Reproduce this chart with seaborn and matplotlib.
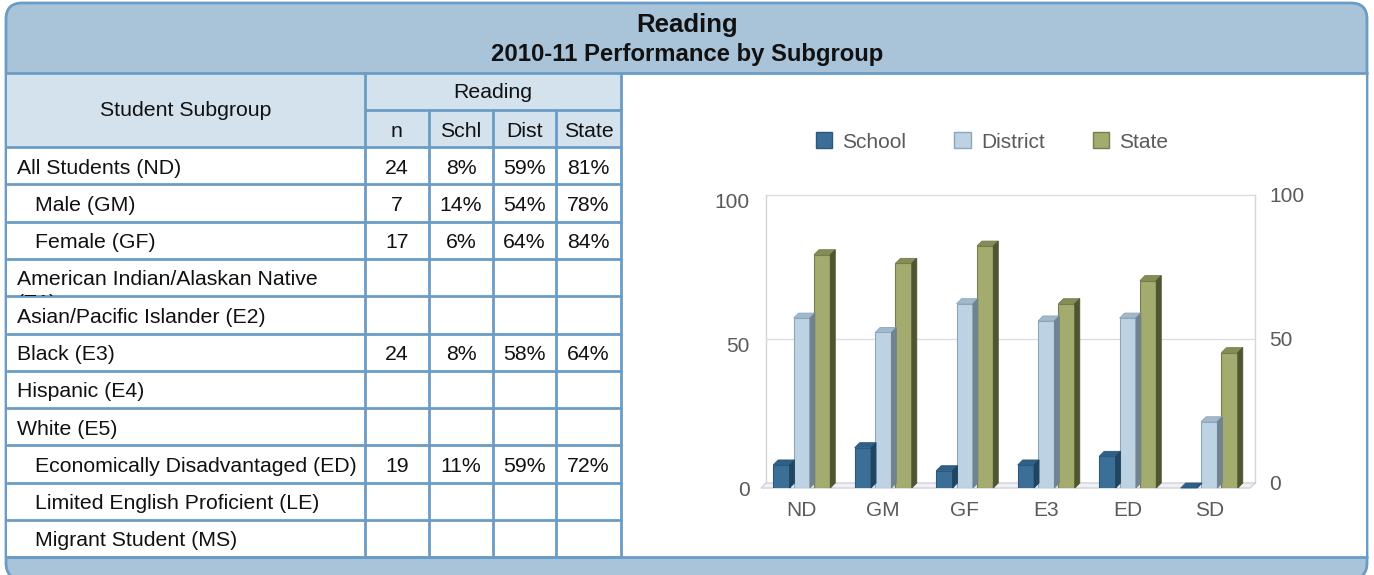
import matplotlib
matplotlib.use("Agg")
import matplotlib.pyplot as plt
import pandas as pd
import seaborn as sns
from matplotlib.patches import Rectangle, FancyBboxPatch, Polygon, Patch

# chart data
categories = ["ND", "GM", "GF", "E3", "ED", "SD"]
series_names = ["School", "District", "State"]
school = [8, 14, 6, 8, 11, 0]
district = [59, 54, 64, 58, 59, 23]
state = [81, 78, 84, 64, 72, 47]

# table data
row_labels = ["All Students (ND)", "Male (GM)", "Female (GF)",
              "American Indian/Alaskan Native", "Asian/Pacific Islander (E2)",
              "Black (E3)", "Hispanic (E4)", "White (E5)",
              "Economically Disadvantaged (ED)", "Limited English Proficient (LE)",
              "Migrant Student (MS)"]
row_indent = [0, 1, 1, 0, 0, 0, 0, 0, 1, 1, 1]
n_vals = ["24", "7", "17", "", "", "24", "", "", "19", "", ""]
schl_vals = ["8%", "14%", "6%", "", "", "8%", "", "", "11%", "", ""]
dist_vals = ["59%", "54%", "64%", "", "", "58%", "", "", "59%", "", ""]
state_vals = ["81%", "78%", "84%", "", "", "64%", "", "", "72%", "", ""]
col_heads = ["n", "Schl", "Dist", "State"]

front_colors = ["#3c6f97", "#bdd2e2", "#a4ab6f"]
edge_colors = ["#2b587b", "#8ea6b9", "#767c4c"]
top_colors = ["#2f6088", "#a2b9cb", "#858c55"]
side_colors = ["#1f4561", "#70838f", "#4f5431"]

sns.set_theme(style="white")
plt.rcParams["font.family"] = ["Liberation Sans", "DejaVu Sans"]

W, H = 1374, 575
fig = plt.figure(figsize=(W / 100, H / 100), dpi=100)
fig.patch.set_facecolor("white")

bg = fig.add_axes([0, 0, 1, 1], zorder=0)
bg.set_xlim(0, W)
bg.set_ylim(H, 0)
bg.axis("off")

line_c = "#6b9cc6"
head_c = "#a9c3d8"
cell_head_c = "#d4e2ed"

# outer frame with header band
bg.add_patch(FancyBboxPatch((6, 3), 1361, 576, boxstyle="round,pad=0,rounding_size=16",
                            facecolor=head_c, edgecolor=line_c, lw=2, clip_on=False))
bg.add_patch(Rectangle((7, 73), 1359, 484, facecolor="white", edgecolor="none"))
bg.text(687, 25, "Reading", ha="center", va="center", fontsize=18.5, fontweight="bold", color="#111")
bg.text(687, 55, "2010-11 Performance by Subgroup", ha="center", va="center",
        fontsize=17.2, fontweight="bold", color="#111")

# table
col_x = [7, 365, 429, 493, 556, 621]
row_y = [147 + 37.3 * i for i in range(12)]
bg.add_patch(Rectangle((7, 73), 614, 74, facecolor=cell_head_c, edgecolor="none"))
lw = 2.0
bg.plot([7, 1367], [73, 73], color=line_c, lw=lw)
bg.plot([365, 621], [110, 110], color=line_c, lw=lw)
for y in row_y:
    bg.plot([7, 621], [y, y], color=line_c, lw=lw, zorder=3)
bg.plot([7, 1367], [557, 557], color=line_c, lw=lw, zorder=3)
bg.plot([365, 365], [73, 557], color=line_c, lw=lw)
bg.plot([621, 621], [73, 557], color=line_c, lw=lw)
for x in col_x[2:5]:
    bg.plot([x, x], [110, 557], color=line_c, lw=lw)

fs = 15.3
bg.text(186, 111, "Student Subgroup", ha="center", va="center", fontsize=fs, color="#111")
bg.text(493, 92, "Reading", ha="center", va="center", fontsize=fs, color="#111")
for j, head in enumerate(col_heads):
    bg.text((col_x[j + 1] + col_x[j + 2]) / 2, 137, head, ha="center", va="baseline",
            fontsize=fs, color="#111")

cols = [n_vals, schl_vals, dist_vals, state_vals]
for i, label in enumerate(row_labels):
    yb = row_y[i] + 26.5
    bg.text(17 + 18 * row_indent[i], yb, label, ha="left", va="baseline", fontsize=fs, color="#111")
    if i == 3:
        # wrapped second line, cut off by the cell like in the web page
        clip = Rectangle((7, row_y[i]), 358, 37.3, transform=bg.transData)
        t2 = bg.text(17, yb + 24, "(E1)", ha="left", va="baseline", fontsize=fs, color="#111")
        t2.set_clip_on(True)
        t2.set_clip_path(clip)
    for j, vals in enumerate(cols):
        if vals[i]:
            bg.text((col_x[j + 1] + col_x[j + 2]) / 2, yb, vals[i], ha="center",
                    va="baseline", fontsize=fs, color="#111")

# chart axes: front (bars) and back wall shifted by the 3D depth
ax_l, ax_b, ax_w, ax_h = 761, 488, 489, 288
depth = 5
axb = fig.add_axes([(ax_l + depth) / W, (H - ax_b + depth) / H, ax_w / W, ax_h / H], zorder=1)
ax = fig.add_axes([ax_l / W, (H - ax_b) / H, ax_w / W, ax_h / H], zorder=2)

df = pd.DataFrame({
    "category": categories * 3,
    "series": [s for s in series_names for _ in categories],
    "value": school + district + state,
})

sns.barplot(data=df, x="category", y="value", hue="series", palette=front_colors,
            width=0.75, gap=0.2, ax=ax, legend=False, saturation=1)
ax.set_xlim(-0.5, len(categories) - 0.5)
ax.set_ylim(0, 100)
dx = depth / ax_w * len(categories)
dy = depth / ax_h * 100

# floor
ax.add_patch(Polygon([(-0.5, 0), (len(categories) - 0.5, 0),
                      (len(categories) - 0.5 + dx, dy), (-0.5 + dx, dy)],
                     closed=True, facecolor="#f0f0f5", edgecolor="#d2d2da", lw=1,
                     clip_on=False, zorder=0.5))

for k, cont in enumerate(ax.containers):
    for bar in cont:
        x0, w, h = bar.get_x(), bar.get_width(), bar.get_height()
        bar.set_edgecolor(edge_colors[k])
        bar.set_linewidth(0.8)
        bar.set_zorder(2)
        ax.add_patch(Polygon([(x0, h), (x0 + w, h), (x0 + w + dx, h + dy), (x0 + dx, h + dy)],
                             closed=True, facecolor=top_colors[k], edgecolor=edge_colors[k],
                             lw=0.6, zorder=2, clip_on=False))
        ax.add_patch(Polygon([(x0 + w, 0), (x0 + w, h), (x0 + w + dx, h + dy), (x0 + w + dx, dy)],
                             closed=True, facecolor=side_colors[k], edgecolor=side_colors[k],
                             lw=0.6, zorder=2, clip_on=False))

tick_c = "#5a5a5a"
ax.set_facecolor("none")
for s in ax.spines.values():
    s.set_visible(False)
ax.set_xlabel("")
ax.set_ylabel("")
ax.set_yticks([0, 50, 100])
ax.tick_params(axis="both", length=0, labelsize=15, colors=tick_c)
ax.tick_params(axis="y", pad=8)
ax.tick_params(axis="x", pad=9)

axb.set_xlim(0, 1)
axb.set_ylim(0, 100)
axb.set_facecolor("none")
for v in [0, 50, 100]:
    axb.axhline(v, color="#dcdce4", lw=1, clip_on=False)
for name, s in axb.spines.items():
    if name in ("left", "right"):
        s.set_color("#d4d4dc")
        s.set_linewidth(1)
    else:
        s.set_visible(False)
axb.set_xticks([])
axb.yaxis.tick_right()
axb.set_yticks([0, 50, 100])
axb.tick_params(axis="y", length=0, labelsize=15, colors=tick_c, pad=10)

handles = [Patch(facecolor=front_colors[k], edgecolor=edge_colors[k], label=series_names[k])
           for k in range(3)]
fig.legend(handles=handles, loc="center", bbox_to_anchor=(992 / W, 1 - 142 / H), ncol=3,
           frameon=False, fontsize=15, labelcolor=tick_c, handlelength=0.78, handleheight=0.78,
           handletextpad=0.5, columnspacing=2.3)

fig.savefig("out.png", dpi=100)
